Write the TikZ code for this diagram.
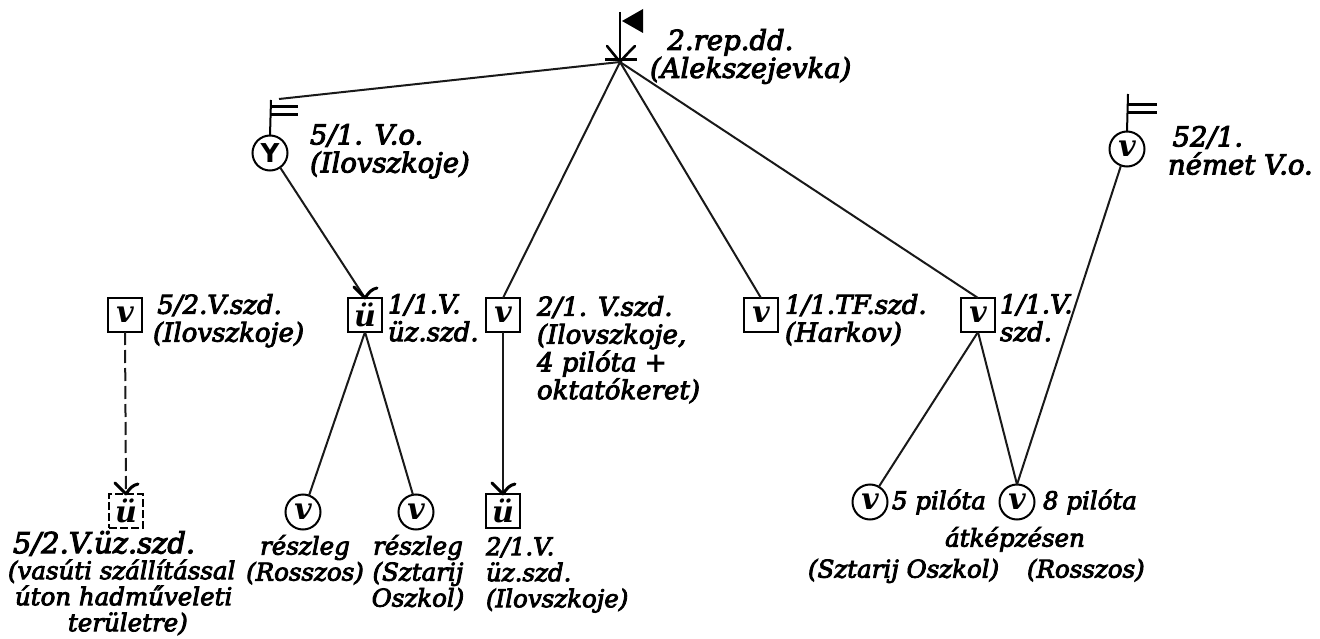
\documentclass[tikz,border=0pt]{standalone}
\usepackage{fontspec}
\setmainfont{Liberation Serif}
\newfontfamily\handfont[FakeBold=3.5]{DejaVu Serif Italic}
\newfontfamily\symfont{DejaVu Serif Bold Italic}
\newfontfamily\wingfont{DejaVu Sans Bold}
\newcommand{\forkon}[1]{%
  \draw[forkline] ($(#1.north)+(0,0)$) -- ($(#1.north)+(-11,-11)$);
  \draw[forkline] ($(#1.north)+(0,0)$) .. controls ($(#1.north)+(4,-6)$) and ($(#1.north)+(7,-9)$) .. ($(#1.north)+(12,-10)$);
}
\usetikzlibrary{calc}
\tikzset{
  x=1pt,y=-1pt,
  conn/.style={line width=2pt,black!90},
  forkline/.style={line width=3pt,line cap=round},
  staff/.style={line width=2pt},
  pennon/.style={line width=3pt},
  lbl/.style={inner sep=0pt,outer sep=0pt,font=\fontsize{24.5}{26}\selectfont\handfont,text=black},
  lblmid/.style={lbl,font=\fontsize{26}{27.8}\selectfont\handfont},
  lblbig/.style={lbl,font=\fontsize{27.5}{28}\selectfont\handfont},
  sym/.style={inner sep=0pt,outer sep=0pt,draw,line width=2pt,font=\fontsize{30}{30}\selectfont\symfont},
  wing/.style={sym,circle,minimum size=35pt},
  unitbox/.style={sym,rectangle,minimum size=34pt},
  tempbox/.style={unitbox,dash pattern=on 8pt off 3pt}
}
\begin{document}
\begin{tikzpicture}
\useasboundingbox (0,0) rectangle (1320,639);
% command post
\coordinate (hq) at (620,62);
\coordinate (hqtop) at (620,12);
\coordinate (flagA) at (622,21);
\coordinate (flagB) at (643,9);
\coordinate (flagC) at (643,33);
\draw[staff] (hqtop) -- (hq);
\fill (flagA) -- (flagB) -- (flagC) -- cycle;
\draw[line width=3pt] ($(hq)+(-15,-2)$) -- ($(hq)+(17,-2)$);
\draw[line width=2.6pt,line cap=round] (hq) -- ($(hq)+(-13,-16)$);
\draw[line width=2.6pt,line cap=round] (hq) .. controls ($(hq)+(5,-6)$) and ($(hq)+(10,-11)$) .. ($(hq)+(15,-16)$);
% nodes
\node[wing] (w51) at (270,153) {\wingfont\fontsize{26}{26}\selectfont Y};
\node[wing] (w52) at (1127,149) {v};
\node[unitbox] (b52v) at (125,315) {v};
\node[unitbox] (b11u) at (365,315) {ü};
\node[unitbox] (b21v) at (503,315) {v};
\node[unitbox] (b11t) at (761,315) {v};
\node[unitbox] (b11v) at (978,315) {v};
\node[tempbox] (b52u) at (126,511) {ü};
\node[unitbox] (b21u) at (503,511) {ü};
\node[wing] (wr1) at (303,512) {v};
\node[wing] (wr2) at (416,512) {v};
\node[wing] (wp5) at (870,502) {v};
\node[wing] (wp8) at (1017,502) {v};
% regiment flags
\coordinate (p51) at (271,100);
\coordinate (p52) at (1128,94);
\draw[staff] (p51) -- (w51.north);
\draw[pennon] ($(p51)+(0,7)$) -- ($(p51)+(27,7)$);
\draw[pennon] ($(p51)+(0,15)$) -- ($(p51)+(27,15)$);
\draw[staff] (p52) -- (w52.north);
\draw[pennon] ($(p52)+(0,11)$) -- ($(p52)+(29,11)$);
\draw[pennon] ($(p52)+(0,19)$) -- ($(p52)+(29,19)$);
% connectors
\coordinate (hqleft) at (279,99);
\draw[conn] (hq) -- (hqleft);
\draw[conn] (hq) -- (b21v.north);
\draw[conn] (hq) -- (b11t.north);
\draw[conn] (hq) -- (b11v.north);
\draw[conn] (w51.-55) -- (b11u.north);
\draw[conn,dash pattern=on 13pt off 5pt] (b52v.south) -- (b52u.north);
\draw[conn] (b21v.south) -- (b21u.north);
\draw[conn] (b11u.south) -- (wr1.70);
\draw[conn] (b11u.south) -- (wr2.100);
\draw[conn] (b11v.south) -- (wp5.60);
\draw[conn] (b11v.south) -- (wp8.north);
\draw[conn] (w52.-110) -- (wp8.north);
\forkon{b11u}
\forkon{b52u}
\forkon{b21u}
% labels
\node[lblbig,anchor=north west,align=left] (t0) at (650,29) {\ \ 2.rep.dd.\\(Alekszejevka)};
\node[lblbig,anchor=north west,align=left] (t1) at (310,124) {5/1. V.o.\\(Ilovszkoje)};
\node[lblmid,anchor=north west,align=left] (t2) at (153,294) {\,5/2.V.szd.\\(Ilovszkoje)};
\node[lblmid,anchor=north west,align=left] (t3) at (388,294) {1/1.V.\\üz.szd.};
\node[lblmid,anchor=north west,align=left] (t4) at (537,296) {2/1. V.szd.\\(Ilovszkoje,\\4 pilóta +\\oktatókeret)};
\node[lblmid,anchor=north west,align=left] (t5) at (785,294) {1/1.TF.szd.\\(Harkov)};
\node[lblmid,anchor=north west,align=left] (t6) at (1000,294) {1/1.V.\\szd.};
\node[lblbig,anchor=north west,align=left] (t7) at (1168,126) {\,52/1.\\német V.o.};
\node[lbl,anchor=north west,align=left] (t8) at (8,531) {\hspace*{5pt}{\fontsize{29}{26}\selectfont\handfont 5/2.V.üz.szd.}\\(vasúti szállítással\\\hspace*{7pt}úton hadműveleti\\\hspace*{60pt}területre)};
\node[lbl,anchor=north,align=center] (t9) at (305,535) {részleg\\(Rosszos)};
\node[lbl,anchor=north,align=center] (t10) at (418,535) {részleg\\(Sztarij\\Oszkol)};
\node[lbl,anchor=north west,align=left] (t11) at (486,537) {2/1.V.\\üz.szd.\\(Ilovszkoje)};
\node[lbl,anchor=west] (t12) at (892,502) {5 pilóta};
\node[lbl,anchor=west] (t13) at (1043,502) {8 pilóta};
\node[lbl,anchor=north,align=center] (t14) at (1015,527) {átképzésen};
\node[lbl,anchor=north west] (t15) at (808,559) {(Sztarij Oszkol)};
\node[lbl,anchor=north west] (t16) at (1027,559) {(Rosszos)};
\end{tikzpicture}
\end{document}
